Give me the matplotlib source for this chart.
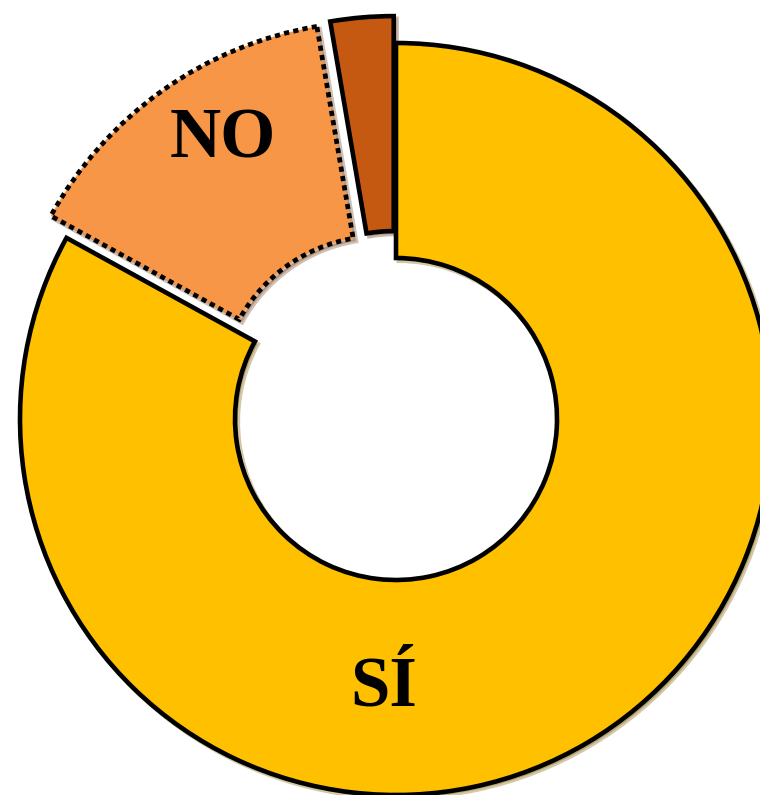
import matplotlib
matplotlib.use("Agg")
import matplotlib.pyplot as plt

# =====================================
# Data
# =====================================

labels = ["", "NO", "SÍ"]
values = [2.7, 14.3, 83.0]
colors = ["#C65911", "#F79646", "#FFC000"]
explode_px = [27, 27, 0]

# =====================================
# Figure (axes in pixel units)
# =====================================

fig = plt.figure(figsize=(7.6, 7.95), dpi=100)
ax = fig.add_axes([0, 0, 1, 1])

radius = 376
center = (396, 376)

# pie() offsets wedges by the explode value in data units
wedges, texts = ax.pie(
    values,
    radius=radius,
    center=center,
    colors=colors,
    startangle=90,
    counterclock=True,
    explode=explode_px,
    wedgeprops=dict(width=radius - 161, edgecolor="black", linewidth=3.3),
    shadow=dict(ox=2, oy=-2, shade=0.5, alpha=0.35),
    frame=True,
)
ax.set_xlim(0, 760)
ax.set_ylim(0, 795)
ax.set_aspect("equal")
ax.axis("off")

# dotted border on the NO slice
wedges[1].set_linestyle((0, (1.1, 0.9)))
wedges[1].set_linewidth(3.4)

# =====================================
# Labels
# =====================================

ax.text(223, 795 - 140, labels[1], ha="center", va="center",
        fontsize=51, fontweight="bold", family="Liberation Serif")
ax.text(384, 795 - 688, labels[2], ha="center", va="center",
        fontsize=51, fontweight="bold", family="Liberation Serif")

fig.savefig("out.png", dpi=100)
